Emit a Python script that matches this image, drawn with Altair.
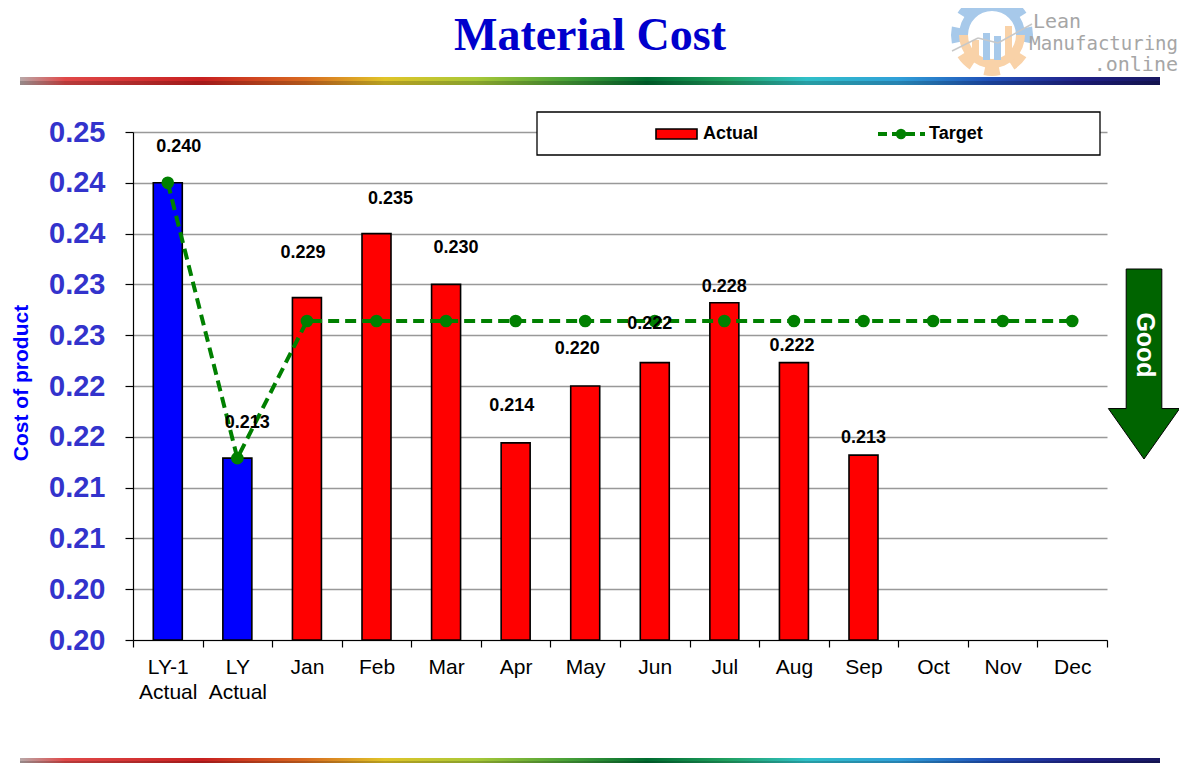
import json
import math
import altair as alt
import pandas as pd

# ---------------- data ----------------
categories = ["LY-1 Actual", "LY Actual", "Jan", "Feb", "Mar", "Apr", "May",
              "Jun", "Jul", "Aug", "Sep", "Oct", "Nov", "Dec"]
bar_group = ["prior", "prior"] + ["month"] * 12
actual = [0.2400, 0.2129, 0.2287, 0.2350, 0.2300, 0.2144, 0.2200,
          0.2223, 0.2282, 0.2223, 0.2132, None, None, None]
target = [0.2400, 0.2129, 0.2264, 0.2264, 0.2264, 0.2264, 0.2264,
          0.2264, 0.2264, 0.2264, 0.2264, 0.2264, 0.2264, 0.2264]
tick_values = [0.195, 0.200, 0.205, 0.210, 0.215, 0.220,
               0.225, 0.230, 0.235, 0.240, 0.245]
tick_labels = ["0.20", "0.20", "0.21", "0.21", "0.22", "0.22",
               "0.23", "0.23", "0.24", "0.24", "0.25"]

# ---------------- styling (label nudges in px, as placed in the original) ----------------
label_nudge_x = [11, 10, -4, 14, 10, -4, -8, -5, 0, -2, 0, 0, 0, 0]
label_nudge_y = [36, 35, 45, 35, 36, 37, 37, 39, 16, 17, 17, 0, 0, 0]

FONT = "Liberation Sans"
SERIF = "Liberation Serif"
MONO = "DejaVu Sans Mono"
W, H = 974, 508
Y_MIN, Y_MAX = 0.195, 0.245
HALF_BAND = W / len(categories) / 2

df = pd.DataFrame({
    "cat": categories,
    "group": bar_group,
    "actual": actual,
    "target": target,
    "dx": label_nudge_x,
    "dy": label_nudge_y,
})

label_expr = "%s[round((datum.value - %g) / 0.005)]" % (json.dumps(tick_labels), Y_MIN)

x_enc = alt.X(
    "cat:N", sort=categories,
    scale=alt.Scale(domain=categories, paddingInner=0, paddingOuter=0),
    axis=alt.Axis(title=None, labelExpr="split(datum.label, ' ')", labelFont=FONT,
                  labelFontSize=21, labelColor="black", labelAngle=0,
                  labelLineHeight=25, labelPadding=9, labelBaseline="top",
                  tickBand="extent", tickSize=7, tickColor="black", tickWidth=1.2,
                  domainColor="black", domainWidth=1.2, grid=False),
)
y_scale = alt.Scale(domain=[Y_MIN, Y_MAX], zero=False, nice=False)
y_axis = alt.Axis(title=None, values=tick_values, labelExpr=label_expr,
                  labelFont=FONT, labelFontSize=29, labelFontWeight="bold",
                  labelColor="#3333CC", labelPadding=20, tickSize=8,
                  tickColor="black", tickWidth=1.2, domainColor="black",
                  domainWidth=1.2, grid=True, gridColor="#999999", gridWidth=1.3)

base = alt.Chart(df)

bars = base.mark_bar(size=29, stroke="black", strokeWidth=1.6).encode(
    x=x_enc,
    y=alt.Y("actual:Q", scale=y_scale, axis=y_axis),
    y2=alt.datum(Y_MIN),
    color=alt.Color("group:N", scale=alt.Scale(domain=["prior", "month"],
                                               range=["#0000FF", "#FF0000"]), legend=None),
)

line = base.mark_line(color="#008000", strokeWidth=4, strokeDash=[11, 6]).encode(
    x=x_enc, y=alt.Y("target:Q", scale=y_scale, axis=y_axis)
)
pts = base.mark_circle(size=160, color="#008000", opacity=1).encode(
    x=x_enc, y=alt.Y("target:Q", scale=y_scale, axis=y_axis)
)

labels = base.transform_filter("isValid(datum.actual)").transform_calculate(
    ly="datum.actual + datum.dy * %g" % ((Y_MAX - Y_MIN) / H),
    ox="datum.dx + %g" % HALF_BAND,
).mark_text(
    font=FONT, fontSize=18, fontWeight="bold", color="black", baseline="middle"
).encode(
    x=x_enc,
    y=alt.Y("ly:Q", scale=y_scale, axis=y_axis),
    xOffset=alt.XOffset("ox:Q", scale=None),
    text=alt.Text("actual:Q", format=".3f"),
)

one = alt.Chart(pd.DataFrame({"k": [0]}))

# legend box (drawn by hand, like the original)
leg_box = one.mark_rect(fill="white", stroke="black", strokeWidth=1.3).encode(
    x=alt.value(404), x2=alt.value(967), y=alt.value(-20), y2=alt.value(23))
leg_sw = one.mark_rect(fill="#FF0000", stroke="black", strokeWidth=1.6).encode(
    x=alt.value(523), x2=alt.value(564), y=alt.value(-3), y2=alt.value(7))
leg_t1 = one.mark_text(text="Actual", font=FONT, fontSize=18, fontWeight="bold",
                       color="black", align="left", baseline="middle").encode(
    x=alt.value(570), y=alt.value(2))
leg_ln = one.mark_rule(color="#008000", strokeWidth=4, strokeDash=[9, 5]).encode(
    x=alt.value(745), x2=alt.value(792), y=alt.value(2))
leg_pt = one.mark_circle(size=110, color="#008000", opacity=1).encode(
    x=alt.value(768), y=alt.value(2))
leg_t2 = one.mark_text(text="Target", font=FONT, fontSize=18, fontWeight="bold",
                       color="black", align="left", baseline="middle").encode(
    x=alt.value(796), y=alt.value(2))

# y-axis title
ytitle = one.mark_text(text="Cost of product", font=FONT, fontSize=21, fontWeight="bold",
                       color="#0000FF", angle=270, align="center", baseline="middle").encode(
    x=alt.value(-111), y=alt.value(251))

# chart title
title = one.mark_text(text="Material Cost", font=SERIF, fontSize=46, fontWeight="bold",
                      color="#0000CC", align="center", baseline="alphabetic").encode(
    x=alt.value(457), y=alt.value(-82))

# "Good" arrow
arrow_path = ("M -0.1875 -1 L 0.1875 -1 L 0.1875 0.469 L 0.375 0.469 L 0 1 "
              "L -0.375 0.469 L -0.1875 0.469 Z")
arrow = one.mark_point(shape=arrow_path, filled=True, fill="#006400", stroke="black",
                       strokeWidth=1, opacity=1, size=190 * 190).encode(
    x=alt.value(1011), y=alt.value(232))
good = one.mark_text(text="Good", font=FONT, fontSize=25, fontWeight="bold", color="white",
                     angle=90, align="center", baseline="middle").encode(
    x=alt.value(1012), y=alt.value(213))

# rainbow separator lines
stops = [
    (0.00, "#b8a8a8"), (0.04, "#e04848"), (0.16, "#c82020"), (0.25, "#d86a20"),
    (0.32, "#e0c428"), (0.40, "#a8c838"), (0.48, "#48a038"), (0.55, "#006c30"),
    (0.62, "#20a060"), (0.69, "#30c0c8"), (0.77, "#30a0d8"), (0.85, "#2050b8"),
    (0.93, "#202088"), (1.00, "#181860"),
]
grad = {"gradient": "linear", "x1": 0, "y1": 0, "x2": 1, "y2": 0,
        "stops": [{"offset": o, "color": c} for o, c in stops]}
rain_top = one.mark_rect(color=grad).encode(
    x=alt.value(-113), x2=alt.value(1027), y=alt.value(-55), y2=alt.value(-47))
rain_top_sh = one.mark_rect(color="black", opacity=0.18).encode(
    x=alt.value(-113), x2=alt.value(1027), y=alt.value(-51), y2=alt.value(-47))
rain_bot = one.mark_rect(color=grad).encode(
    x=alt.value(-113), x2=alt.value(1027), y=alt.value(626), y2=alt.value(632))
rain_bot_sh = one.mark_rect(color="black", opacity=0.18).encode(
    x=alt.value(-113), x2=alt.value(1027), y=alt.value(629), y2=alt.value(632))

# logo
GX, GY = 859, -97
BLUE_L, ORNG_L = "#a7c9ea", "#f9d2a8"
gear_rows = [{"t0": -math.pi / 2, "t1": math.pi / 2, "c": BLUE_L, "r": "ring"},
             {"t0": math.pi / 2, "t1": 3 * math.pi / 2, "c": ORNG_L, "r": "ring"}]
for a in range(0, 360, 45):
    col = ORNG_L if a in (135, 180, 225) else BLUE_L
    gear_rows.append({"t0": math.radians(a - 12), "t1": math.radians(a + 12), "c": col, "r": "tooth"})
gear_df = pd.DataFrame(gear_rows)
ring = alt.Chart(gear_df).transform_filter("datum.r == 'ring'").mark_arc(
    innerRadius=24, outerRadius=33).encode(
    theta=alt.Theta("t0:Q", scale=None), theta2="t1:Q",
    color=alt.Color("c:N", scale=None), x=alt.value(GX), y=alt.value(GY))
teeth = alt.Chart(gear_df).transform_filter("datum.r == 'tooth'").mark_arc(
    innerRadius=31, outerRadius=41).encode(
    theta=alt.Theta("t0:Q", scale=None), theta2="t1:Q",
    color=alt.Color("c:N", scale=None), x=alt.value(GX), y=alt.value(GY))
lb1 = one.mark_rect(color=ORNG_L).encode(x=alt.value(GX - 20), x2=alt.value(GX - 13),
                                          y=alt.value(GY + 5), y2=alt.value(GY + 25))
lb2 = one.mark_rect(color=BLUE_L).encode(x=alt.value(GX - 9), x2=alt.value(GX - 2),
                                          y=alt.value(GY - 2), y2=alt.value(GY + 25))
lb3 = one.mark_rect(color=BLUE_L).encode(x=alt.value(GX + 2), x2=alt.value(GX + 9),
                                          y=alt.value(GY + 1), y2=alt.value(GY + 25))
lb4 = one.mark_rect(color=ORNG_L).encode(x=alt.value(GX + 13), x2=alt.value(GX + 20),
                                          y=alt.value(GY - 9), y2=alt.value(GY + 25))
ll1 = one.mark_rule(color="#c8c8c8", strokeWidth=1.5).encode(
    x=alt.value(GX - 40), x2=alt.value(GX - 14), y=alt.value(GY + 16), y2=alt.value(GY + 3))
ll2 = one.mark_rule(color="#c8c8c8", strokeWidth=1.5).encode(
    x=alt.value(GX - 14), x2=alt.value(GX + 6), y=alt.value(GY + 3), y2=alt.value(GY + 8))
ll3 = one.mark_rule(color="#c8c8c8", strokeWidth=1.5).encode(
    x=alt.value(GX + 6), x2=alt.value(GX + 40), y=alt.value(GY + 8), y2=alt.value(GY - 11))
logo1 = one.mark_text(text="Lean", font=MONO, fontSize=20, color="#a6a6a6",
                      align="left", baseline="alphabetic").encode(
    x=alt.value(900), y=alt.value(-104))
logo2 = one.mark_text(text="Manufacturing", font=MONO, fontSize=19, color="#a6a6a6",
                      align="right", baseline="alphabetic").encode(
    x=alt.value(1045), y=alt.value(-82))
logo3 = one.mark_text(text=".online", font=MONO, fontSize=20, color="#a6a6a6",
                      align="right", baseline="alphabetic").encode(
    x=alt.value(1045), y=alt.value(-61))

chart = alt.layer(
    bars, line, pts, labels,
    leg_box, leg_sw, leg_t1, leg_ln, leg_pt, leg_t2,
    ytitle, title, arrow, good,
    rain_top, rain_top_sh, rain_bot, rain_bot_sh,
    teeth, ring, lb1, lb2, lb3, lb4, ll1, ll2, ll3, logo1, logo2, logo3,
).properties(
    width=W, height=H,
    autosize=alt.AutoSizeParams(type="none"),
    padding={"left": 125, "top": 124, "right": 72, "bottom": 123},
    background="white",
).configure_view(stroke=None)

chart.save("out.html", embed_options={"renderer": "svg", "actions": False})
